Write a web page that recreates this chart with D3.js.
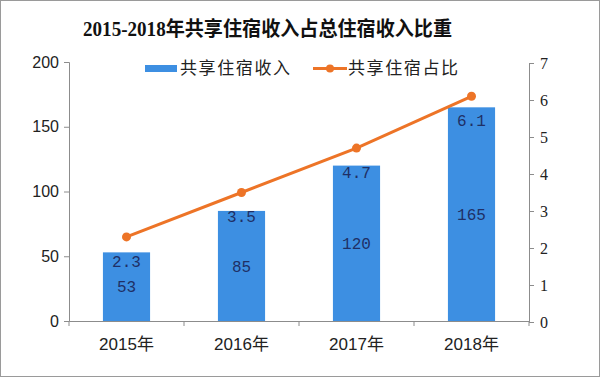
<!DOCTYPE html>
<html><head><meta charset="utf-8">
<script src="https://cdn.jsdelivr.net/npm/d3@7"></script>
<style>body{margin:0;background:#fff}svg{display:block}</style>
</head><body>
<script>
const categories = ["2015年","2016年","2017年","2018年"];
const revenue = [53, 85, 120, 165];
const share = [2.3, 3.5, 4.7, 6.1];
const shareLabels = ["2.3","3.5","4.7","6.1"];
const leftTicks = [0,50,100,150,200];
const rightTicks = [0,1,2,3,4,5,6,7];
const title = "2015-2018年共享住宿收入占总住宿收入比重";
const seriesNames = ["共享住宿收入","共享住宿占比"];

const W=600,H=377;
const svg=d3.select("body").append("svg").attr("width",W).attr("height",H);
svg.append("rect").attr("x",0.5).attr("y",0.5).attr("width",W-1).attr("height",H-1).attr("fill","#fff").attr("stroke","#9a9a9a");

const m={l:69,r:529,t:62,b:321};
const x=d3.scaleBand().domain(categories).range([m.l,m.r]).paddingInner(0.59).paddingOuter(0.295);
const xc=d3.scaleBand().domain(categories).range([m.l,m.r]);
const yL=d3.scaleLinear().domain([0,200]).range([m.b,m.t]);
const yR=d3.scaleLinear().domain([0,7]).range([m.b+1,m.t+1]);

svg.append("text").attr("x",83).attr("y",36).attr("text-anchor","start")
  .attr("font-family","'Liberation Serif','Noto Sans CJK SC'").attr("font-weight","bold").attr("font-size",20).attr("fill","#111")
  .attr("textLength",369).attr("lengthAdjust","spacingAndGlyphs").text(title);

// bars
svg.selectAll("rect.bar").data(revenue).join("rect").attr("class","bar")
  .attr("x",(d,i)=>x(categories[i])).attr("width",x.bandwidth())
  .attr("y",d=>yL(d)).attr("height",d=>yL(0)-yL(d)).attr("fill","#3d8fe2");

// axes
const gray="#8c8c8c";
const axL=svg.append("g").attr("transform",`translate(${m.l},0)`).call(d3.axisLeft(yL).tickValues(leftTicks).tickSize(5).tickPadding(5));
axL.selectAll("text").attr("font-family","'Liberation Sans',Arial").attr("font-size",16).attr("fill","#222");
const axR=svg.append("g").attr("transform",`translate(${m.r},0)`).call(d3.axisRight(yR).tickValues(rightTicks).tickFormat(d3.format("d")).tickSize(5).tickPadding(6));
axR.selectAll("text").attr("font-family","'Liberation Serif',serif").attr("font-size",16).attr("fill","#222");
const axB=svg.append("g").attr("transform",`translate(0,${m.b})`).call(d3.axisBottom(xc).tickSize(0).tickPadding(17));
axB.selectAll("text").attr("font-family","'Liberation Sans','Noto Sans CJK SC'").attr("font-size",17).attr("fill","#222");
[axL,axR,axB].forEach(a=>{a.selectAll("path,line").attr("stroke",gray);});
const bounds=categories.map(c=>xc(c)).concat([m.r]);
svg.selectAll("line.bt").data(bounds).join("line").attr("class","bt")
  .attr("x1",d=>d).attr("x2",d=>d).attr("y1",m.b).attr("y2",m.b+5).attr("stroke",gray);

// line
const cx=(i)=>xc(categories[i])+xc.bandwidth()/2;
const line=d3.line().x((d,i)=>cx(i)).y(d=>yR(d));
svg.append("path").datum(share).attr("d",line).attr("fill","none").attr("stroke","#ed7427").attr("stroke-width",3);
svg.selectAll("circle.pt").data(share).join("circle").attr("class","pt")
  .attr("cx",(d,i)=>cx(i)).attr("cy",d=>yR(d)).attr("r",4.5).attr("fill","#ed7427");

// labels
const lblColor="#1f2f66";
svg.selectAll("text.pl").data(share).join("text").attr("class","pl")
  .attr("x",(d,i)=>cx(i)).attr("y",d=>yR(d)+24).attr("dy","0.35em").attr("text-anchor","middle")
  .attr("font-family","'Liberation Mono',monospace").attr("font-size",16).attr("fill",lblColor)
  .text((d,i)=>shareLabels[i]);
svg.selectAll("text.vl").data(revenue).join("text").attr("class","vl")
  .attr("x",(d,i)=>cx(i)).attr("y",d=>(yL(d)+yL(0))/2).attr("dy","0.35em").attr("text-anchor","middle")
  .attr("font-family","'Liberation Mono',monospace").attr("font-size",16).attr("fill",lblColor)
  .text(d=>d);

// legend
const lg=svg.append("g");
lg.append("rect").attr("x",145).attr("y",65).attr("width",32).attr("height",7).attr("fill","#3d8fe2");
lg.append("text").attr("x",180).attr("y",68.5).attr("dy","0.35em").attr("font-family","'Noto Sans CJK SC'").attr("font-size",17).attr("fill","#222")
  .attr("textLength",110).attr("lengthAdjust","spacing").text(seriesNames[0]);
lg.append("line").attr("x1",313).attr("x2",347).attr("y1",68.5).attr("y2",68.5).attr("stroke","#ed7427").attr("stroke-width",3);
lg.append("circle").attr("cx",330).attr("cy",68.5).attr("r",4).attr("fill","#ed7427");
lg.append("text").attr("x",348).attr("y",68.5).attr("dy","0.35em").attr("font-family","'Noto Sans CJK SC'").attr("font-size",17).attr("fill","#222")
  .attr("textLength",110).attr("lengthAdjust","spacing").text(seriesNames[1]);
</script>
</body></html>
